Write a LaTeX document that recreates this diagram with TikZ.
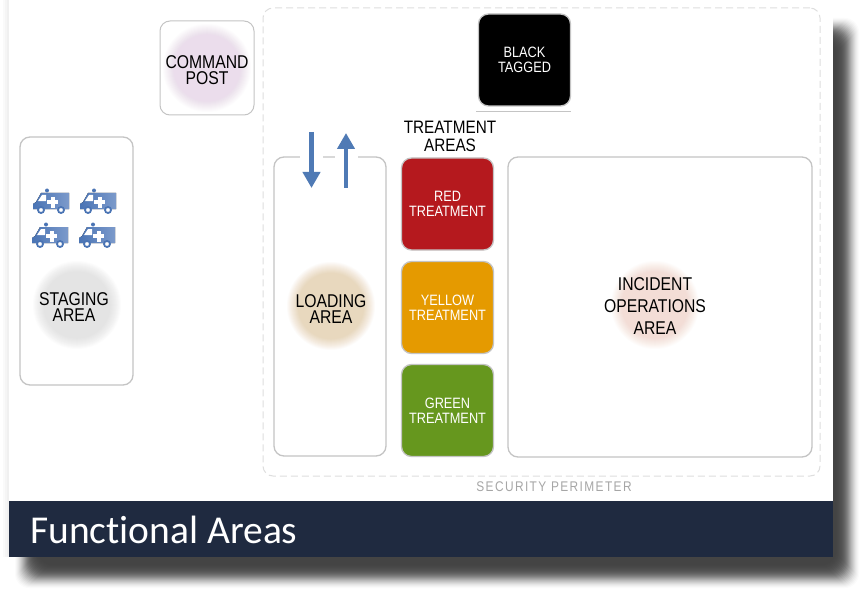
\documentclass[tikz,border=0pt]{standalone}
\usepackage{fontspec}
\setmainfont[FakeStretch=0.85]{Liberation Sans}
\newfontfamily\titlefont[Ligatures=NoCommon]{Carlito}
\newfontfamily\perimfont[FakeStretch=0.85,LetterSpace=10]{Liberation Sans}
\usetikzlibrary{arrows.meta}
\definecolor{bandblue}{HTML}{1F2A40}
\definecolor{arrowblue}{HTML}{4F7AB5}
\definecolor{ambdark}{HTML}{4A74B4}
\definecolor{amblight}{HTML}{7C9ACB}
\definecolor{boxgray}{HTML}{C4C4C4}
\definecolor{redtag}{HTML}{B5191E}
\definecolor{yellowtag}{HTML}{E59A00}
\definecolor{greentag}{HTML}{66971E}
\definecolor{stagingtint}{HTML}{E4E4E4}
\definecolor{commandtint}{HTML}{EBDDEC}
\definecolor{loadingtint}{HTML}{E8D8BE}
\definecolor{incidenttint}{HTML}{F3DDD6}
\newcommand{\softdisc}[2]{%
    \foreach \n in {1,...,12} {
        \pgfmathsetmacro{\discop}{1/(13-\n)}
        \fill[#2, opacity=\discop] (#1) circle ({45-\n*1.0pt});
    }%
}
\tikzset{
    area/.style={draw=boxgray, line width=1.3pt, rounded corners=10pt, outer sep=0pt, inner sep=0pt, fill=white},
    tagbox/.style={area, text=white, font=\fontsize{15}{15}\selectfont, align=center, minimum width=92pt, minimum height=92pt},
    blob/.style={inner sep=0pt, align=center, font=\fontsize{18.5}{16}\selectfont},
    flow/.style={arrowblue, line width=4.5pt, -{Triangle[width=17pt,length=16pt]}},
    pics/ambulance/.style={code={
        \fill[ambdark] (14,1.5) circle (2pt);
        \fill[left color=ambdark, right color=amblight] (0,20) -- (0,15) -- (3,13) -- (8,4) -- (36,4) -- (36,20) -- cycle;
        \fill[white] (5,12) -- (9,6) -- (13,6) -- (13,12) -- cycle;
        \fill[white] (17.5,7.5) rectangle (21.9,18.5);
        \fill[white] (14.2,10.8) rectangle (25.2,15.2);
        \foreach \wx in {8,28} {
            \filldraw[fill=white, draw=ambdark, line width=1.8pt] (\wx,21) circle (3pt);
        }
    }}
}
\begin{document}
\begin{tikzpicture}[x=1pt,y=-1pt]
\useasboundingbox (0,0) rectangle (864,596);

    % Shadow
\foreach \i in {0,...,3} {
    \fill[black, opacity=0.02] (9-\i*2,0) rectangle (833,557);
}
\foreach \i in {0,...,23} {
    \pgfmathsetmacro{\shadeop}{0.015+0.007*min(\i,23-\i)}
    \fill[black, opacity=\shadeop, rounded corners=14pt] (15+\i,18+\i) rectangle (859-\i,588-\i);
}
    % Page
\fill[white] (9,0) rectangle (833,501);
\fill[bandblue] (9,501) rectangle (833,557);
\node (title) [anchor=base west, text=white, inner sep=0pt, font=\titlefont\fontsize{39.5}{40}\selectfont] at (30,543) {Functional Areas};

    % Security perimeter
\node (perimeter) [draw=black!13, line width=1pt, dash pattern=on 7pt off 4pt, rounded corners=10pt, minimum width=557pt, minimum height=468pt, inner sep=0pt] at (541.5,242) {};
\node (perimeterlabel) [text=black!35, font=\perimfont\fontsize{14}{15}\selectfont, inner sep=0pt] at (554,487) {SECURITY PERIMETER};

    % Staging
\node (stagingbox) [area, minimum width=113pt, minimum height=248pt] at (76.5,261) {};
\softdisc{77,305}{stagingtint}
\node (staging) [blob] at (74,307) {STAGING\\AREA};
\foreach \ax/\ay in {33/189,80/189,32/223,79/223} {
    \pic at (\ax,\ay) {ambulance};
}

    % Command post
\node (commandbox) [area, line width=1pt, minimum width=94pt, minimum height=94pt] at (207,68) {};
\softdisc{207,68}{commandtint}
\node (command) [blob] at (207,70) {COMMAND\\POST};

    % Black tagged
\node (black) [tagbox, fill=black] at (524.5,60) {BLACK\\TAGGED};
\coordinate (blackrulel) at (476,112);
\coordinate (blackruler) at (571,112);
\draw[boxgray, line width=1pt] (blackrulel) -- (blackruler);

    % Loading
\node (loadingbox) [area, minimum width=112pt, minimum height=299pt] at (330,306.5) {};
\softdisc{331,306}{loadingtint}
\node (loading) [blob] at (331,309) {LOADING\\AREA};
\fill[white] (300,154) rectangle (323,160);
\fill[white] (335,154) rectangle (358,160);
\coordinate (dntop) at (311.5,132);
\coordinate (dnend) at (311.5,188);
\coordinate (uptop) at (346,133);
\coordinate (upend) at (346,188);
\draw[flow] (dntop) -- (dnend);
\draw[flow] (upend) -- (uptop);

    % Treatment
\node (treatment) [align=center, inner sep=0pt, font=\fontsize{18}{17.5}\selectfont] at (450,136.5) {TREATMENT\\AREAS};
\node (red) [tagbox, fill=redtag] at (447.5,204) {RED\\TREATMENT};
\node (yellow) [tagbox, fill=yellowtag] at (447.5,307.5) {YELLOW\\TREATMENT};
\node (green) [tagbox, fill=greentag] at (447.5,410.5) {GREEN\\TREATMENT};

    % Incident operations
\node (incidentbox) [area, minimum width=304pt, minimum height=300pt] at (660,307) {};
\softdisc{655,305}{incidenttint}
\node (incident) [blob, font=\fontsize{18.5}{22}\selectfont] at (655,306) {INCIDENT\\OPERATIONS\\AREA};

\end{tikzpicture}
\end{document}
